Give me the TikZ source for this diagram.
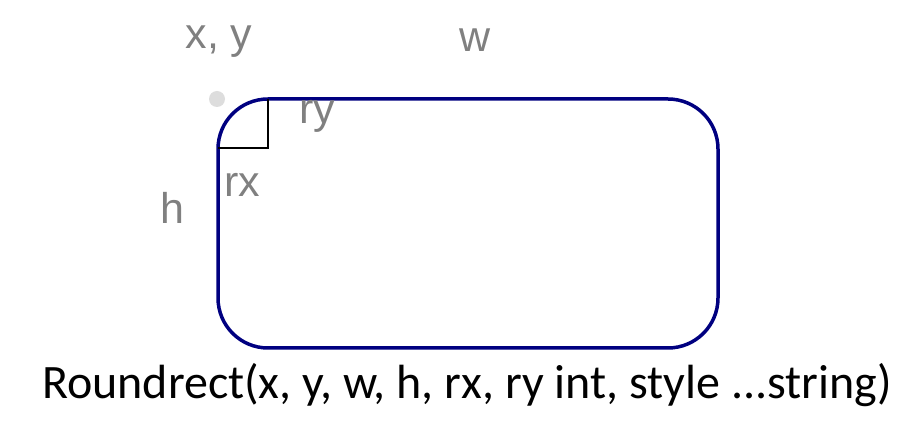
\documentclass[tikz,border=0pt]{standalone}
\usepackage{fontspec}
\setmainfont{Carlito}
\newfontfamily\labelfont{Liberation Sans}
\definecolor{rectblue}{RGB}{0,0,128}
\definecolor{labelgray}{RGB}{128,128,128}
\definecolor{dotgray}{RGB}{221,221,221}
\tikzset{
    param/.style={text=labelgray, font=\labelfont\fontsize{43}{50}\selectfont, inner sep=0pt},
    caption/.style={text=black, font=\fontsize{48}{54}\selectfont, inner sep=0pt}
}
\begin{document}
\begin{tikzpicture}[x=1pt, y=-1pt]
    \useasboundingbox (0,0) rectangle (900,427);
    % origin dot and rectangle
    \fill[dotgray] (217,99) circle (8);
    \draw[rectblue, line width=3.5pt, rounded corners=50pt] (218,99) rectangle (718,348);
    % radius marks
    \coordinate (corner) at (268,148);
    \draw[black, line width=1.6pt] (268,99) -- (corner) -- (218,148);
    % labels
    \node[param] (xy) at (219,42) {x, y};
    \node[param] (w) at (475,40) {w};
    \node[param] (ry) at (317,116) {ry};
    \node[param] (rx) at (242,185) {rx};
    \node[param] (h) at (172,208) {h};
    \node[caption] (sig) at (467,385) {Roundrect(x, y, w, h, rx, ry int, style ...string)};
\end{tikzpicture}
\end{document}
